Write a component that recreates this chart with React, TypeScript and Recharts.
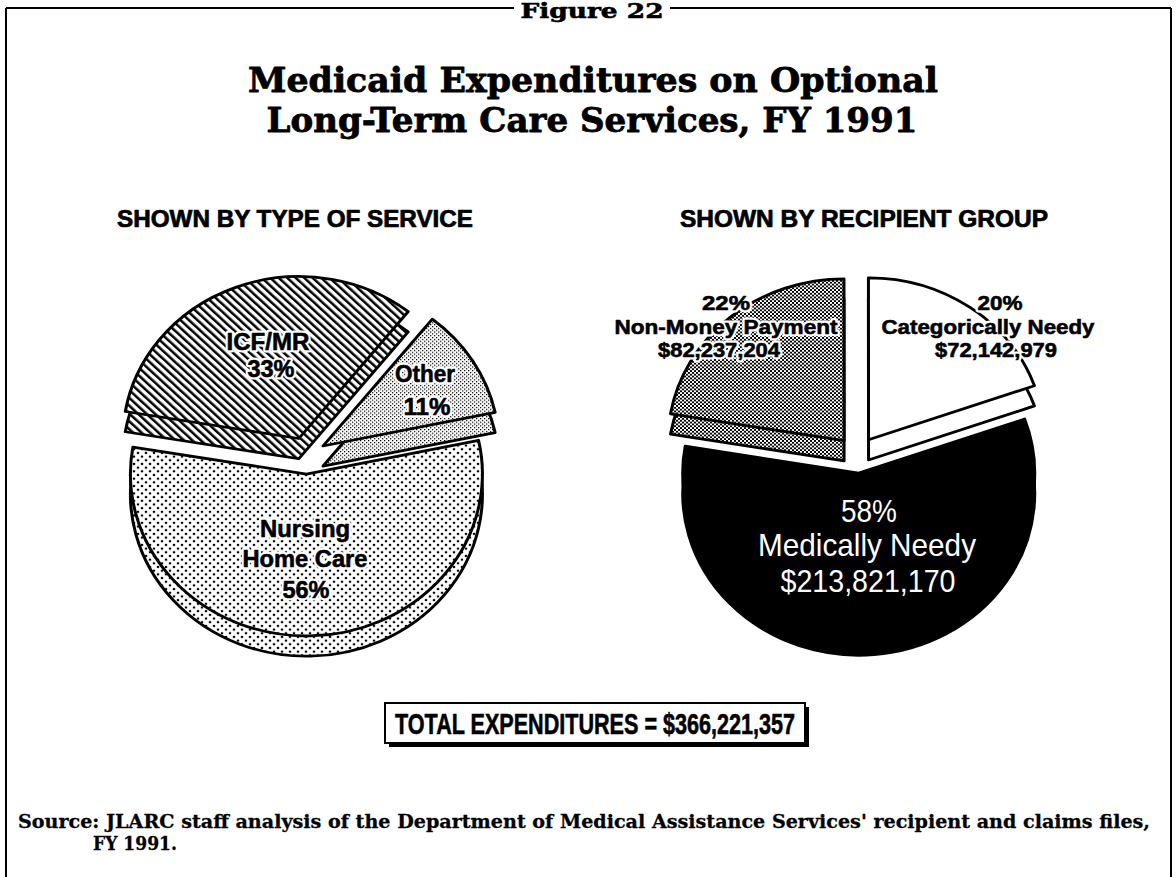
import { Cell, Pie, PieChart } from "recharts";

// --- data -------------------------------------------------------------
const serviceNames = ["Other", "ICF/MR", "Nursing Home Care"];
const servicePct = [11, 33, 56];

const recipientNames = ["Categorically Needy", "Non-Money Payment", "Medically Needy"];
const recipientDollars = [72142979, 82237204, 213821170];
const recipientPct = [20, 22, 58];

const TOTAL = "$366,221,357";

// --- look -------------------------------------------------------------
const W = 1176;
const H = 877;
const TILT = 0.92; // vertical squash so the pies read as tilted discs
const SANS = "'Liberation Sans Narrow', 'Liberation Sans', Arial, sans-serif";
const SERIF = "'DejaVu Serif', 'Liberation Serif', serif";

const serviceFills = ["url(#pFine)", "url(#pHatch)", "url(#pDots)"];
const recipientFills = ["#fff", "url(#pChecker)", "#000"];

type Slice = { name: string; value: number };

const serviceData: Slice[] = serviceNames.map((name, i) => ({ name, value: servicePct[i] }));
const recipientData: Slice[] = recipientNames.map((name, i) => ({ name, value: recipientDollars[i] }));

const fmt = (v: number) => "$" + v.toLocaleString("en-US");

// one Pie per slice (top face + a shifted copy for the side), each pushed
// out along its own mid-angle
function explodedPies(
  id: string,
  data: Slice[],
  fills: string[],
  startAngle: number,
  cx: number,
  cy: number,
  r: number,
  explode: number,
  depth: number,
  order: number[],
) {
  const total = data.reduce((s, d) => s + d.value, 0);
  let a = startAngle;
  const mids = data.map((d) => {
    const span = (d.value / total) * 360;
    const m = a + span / 2;
    a += span;
    return m;
  });
  const out: JSX.Element[] = [];
  order.forEach((i) => {
    const rad = (mids[i] * Math.PI) / 180;
    const x = cx + explode * Math.cos(rad);
    const y = cy - explode * Math.sin(rad);
    ["side", "top"].forEach((layer) => {
      out.push(
        <Pie
          key={`${id}-${i}-${layer}`}
          data={data}
          dataKey="value"
          nameKey="name"
          cx={x}
          cy={layer === "side" ? y + depth : y}
          innerRadius={0}
          outerRadius={r}
          startAngle={startAngle}
          endAngle={startAngle + 360}
          isAnimationActive={false}
          legendType="none"
        >
          {data.map((_, j) => (
            <Cell
              key={j}
              fill={j === i ? fills[i] : "none"}
              stroke={j === i ? "#000" : "none"}
              strokeWidth={3}
              strokeLinejoin="round"
            />
          ))}
        </Pie>,
      );
    });
  });
  return out;
}

function PatternDefs() {
  return (
    <svg width={0} height={0} style={{ position: "absolute" }}>
      <defs>
        <pattern id="pHatch" patternUnits="userSpaceOnUse" width={6} height={6} patternTransform="rotate(-45)">
          <rect width={6} height={6} fill="#fff" />
          <rect width={2.6} height={6} fill="#000" />
        </pattern>
        <pattern id="pFine" patternUnits="userSpaceOnUse" width={4} height={4}>
          <rect width={4} height={4} fill="#fff" />
          <rect width={1.3} height={1.3} fill="#000" />
          <rect x={2} y={2} width={1.3} height={1.3} fill="#000" />
        </pattern>
        <pattern id="pDots" patternUnits="userSpaceOnUse" width={8} height={8}>
          <rect width={8} height={8} fill="#fff" />
          <circle cx={2} cy={2} r={1.3} fill="#000" />
          <circle cx={6} cy={6} r={1.3} fill="#000" />
        </pattern>
        <pattern id="pChecker" patternUnits="userSpaceOnUse" width={4} height={4}>
          <rect width={4} height={4} fill="#fff" />
          <rect width={2} height={2} fill="#000" />
          <rect x={2} y={2} width={2} height={2} fill="#000" />
        </pattern>
      </defs>
    </svg>
  );
}

type TxtProps = {
  x: number;
  y: number;
  w: number;
  size: number;
  children: string;
  fill?: string;
  halo?: boolean;
  heavy?: number;
  weight?: number;
  family?: string;
  anchor?: "start" | "middle" | "end";
};

// text squeezed to the measured width; optional white halo and a thin
// outline in the fill colour to get the heavy look of the original type
function Txt({ x, y, w, size, children, fill = "#000", halo = false, heavy = 0, weight = 700, family = SANS, anchor = "middle" }: TxtProps) {
  const common = {
    x,
    y,
    textAnchor: anchor,
    fontSize: size,
    fontWeight: weight,
    fontFamily: family,
    textLength: w,
    lengthAdjust: "spacingAndGlyphs" as const,
    strokeLinejoin: "round" as const,
  };
  return (
    <g>
      {halo && (
        <text {...common} fill="#fff" stroke="#fff" strokeWidth={5}>
          {children}
        </text>
      )}
      <text {...common} fill={fill} stroke={heavy ? fill : "none"} strokeWidth={heavy}>
        {children}
      </text>
    </g>
  );
}

const LEFT = { x: 80, top: 245, w: 470, h: 490 };
const RIGHT = { x: 630, top: 245, w: 440, h: 490 };

export default function App() {
  const svcTotal = servicePct.reduce((s, v) => s + v, 0);
  const pct = (i: number) => `${Math.round((servicePct[i] / svcTotal) * 100)}%`;
  const nursing = serviceNames[2].split(" ");

  return (
    <div style={{ position: "absolute", left: 0, top: 0, width: W, height: H, background: "#fff", overflow: "hidden" }}>
      <PatternDefs />

      <div
        style={{
          position: "absolute",
          left: LEFT.x,
          top: LEFT.top,
          width: LEFT.w,
          height: LEFT.h,
          transform: `scaleY(${TILT})`,
          transformOrigin: "0 0",
        }}
      >
        <PieChart width={LEFT.w} height={LEFT.h} margin={{ top: 0, right: 0, bottom: 0, left: 0 }}>
          {explodedPies("svc", serviceData, serviceFills, 12, 226, 229, 176, 20, 22, [1, 0, 2])}
        </PieChart>
      </div>

      <div
        style={{
          position: "absolute",
          left: RIGHT.x,
          top: RIGHT.top,
          width: RIGHT.w,
          height: RIGHT.h,
          transform: `scaleY(${TILT})`,
          transformOrigin: "0 0",
        }}
      >
        <PieChart width={RIGHT.w} height={RIGHT.h} margin={{ top: 0, right: 0, bottom: 0, left: 0 }}>
          {explodedPies("rcp", recipientData, recipientFills, 19.5, 227, 228, 176, 20, 22, [1, 0, 2])}
        </PieChart>
      </div>

      <svg width={W} height={H} style={{ position: "absolute", left: 0, top: 0, pointerEvents: "none" }}>
        {/* frame */}
        <g stroke="#000" strokeWidth={2} fill="none">
          <line x1={6} y1={8} x2={514} y2={8} />
          <line x1={670} y1={8} x2={1171} y2={8} />
          <line x1={6} y1={8} x2={6} y2={H} />
          <line x1={1171} y1={8} x2={1171} y2={H} />
        </g>
        <Txt x={592} y={18} w={143} size={20} family={SERIF} heavy={0.6}>Figure 22</Txt>

        <Txt x={593} y={92} w={690} size={34} family={SERIF} heavy={0.8}>Medicaid Expenditures on Optional</Txt>
        <Txt x={592} y={132} w={651} size={34} family={SERIF} heavy={0.8}>Long-Term Care Services, FY 1991</Txt>

        <Txt x={295} y={227} w={356} size={23} heavy={0.7}>SHOWN BY TYPE OF SERVICE</Txt>
        <Txt x={864} y={227} w={368} size={23} heavy={0.7}>SHOWN BY  RECIPIENT GROUP</Txt>

        {/* type of service labels */}
        <Txt x={268} y={350} w={83} size={24} halo heavy={0.6}>{serviceNames[1]}</Txt>
        <Txt x={271} y={377} w={47} size={24} halo heavy={0.6}>{pct(1)}</Txt>
        <Txt x={425} y={382} w={60} size={24} halo heavy={0.6}>{serviceNames[0]}</Txt>
        <Txt x={427} y={415} w={47} size={24} halo heavy={0.6}>{pct(0)}</Txt>
        <Txt x={305} y={537} w={90} size={24} halo heavy={0.6}>{nursing[0]}</Txt>
        <Txt x={305} y={567} w={125} size={24} halo heavy={0.6}>{nursing.slice(1).join(" ")}</Txt>
        <Txt x={306} y={598} w={47} size={24} halo heavy={0.6}>{pct(2)}</Txt>

        {/* recipient group labels */}
        <Txt x={726} y={310} w={48} size={21} halo heavy={0.6}>{`${recipientPct[1]}%`}</Txt>
        <Txt x={726} y={334} w={223} size={21} halo heavy={0.6}>{recipientNames[1]}</Txt>
        <Txt x={719} y={357} w={122} size={21} halo heavy={0.6}>{fmt(recipientDollars[1])}</Txt>
        <Txt x={1000} y={310} w={45} size={21} halo heavy={0.6}>{`${recipientPct[0]}%`}</Txt>
        <Txt x={988} y={334} w={213} size={21} halo heavy={0.6}>{recipientNames[0]}</Txt>
        <Txt x={996} y={357} w={122} size={21} halo heavy={0.6}>{fmt(recipientDollars[0])}</Txt>
        <Txt x={869} y={522} w={56} size={32} weight={400} fill="#fff">{`${recipientPct[2]}%`}</Txt>
        <Txt x={867} y={556} w={218} size={32} weight={400} fill="#fff">{recipientNames[2]}</Txt>
        <Txt x={868} y={592} w={175} size={32} weight={400} fill="#fff">{fmt(recipientDollars[2])}</Txt>

        {/* total box */}
        <line x1={389} y1={745} x2={809} y2={745} stroke="#000" strokeWidth={4} />
        <line x1={807} y1={707} x2={807} y2={747} stroke="#000" strokeWidth={4} />
        <rect x={385} y={703} width={420} height={40} fill="#fff" stroke="#000" strokeWidth={2} />
        <Txt x={595} y={734} w={400} size={30} heavy={0.6}>{`TOTAL EXPENDITURES = ${TOTAL}`}</Txt>

        {/* source */}
        <Txt x={18} y={828} w={1132} size={19} family={SERIF} anchor="start" heavy={0.3}>
          Source:  JLARC staff analysis of the Department of Medical Assistance Services' recipient and claims files,
        </Txt>
        <Txt x={93} y={850} w={84} size={19} family={SERIF} anchor="start" heavy={0.3}>FY 1991.</Txt>
      </svg>
    </div>
  );
}
